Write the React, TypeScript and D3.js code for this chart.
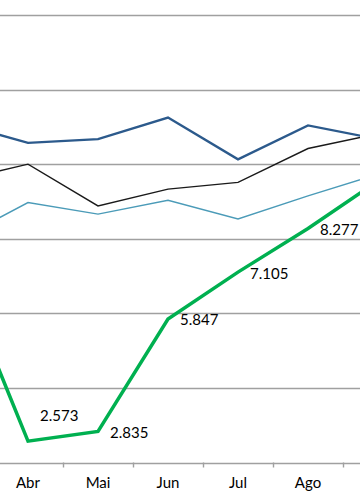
import React, { useRef, useEffect } from 'react';
import * as d3 from 'd3';

// Meses (Mar e Set ficam fora da área visível, só para as linhas chegarem às bordas)
const months = ['Mar', 'Abr', 'Mai', 'Jun', 'Jul', 'Ago', 'Set'];
const visibleMonths = ['Abr', 'Mai', 'Jun', 'Jul', 'Ago'];
const yTicks = [2, 4, 6, 8, 10, 12, 14];

const serieAzul = [11.1, 10.57, 10.67, 11.25, 10.13, 11.04, 10.67];
const seriePreta = [9.56, 10.0, 8.88, 9.33, 9.51, 10.42, 10.82];
const serieTurquesa = [7.98, 8.97, 8.66, 9.03, 8.53, 9.15, 9.73];
const serieVerde = [7.19, 2.573, 2.835, 5.847, 7.105, 8.277, 9.55];

const App = () => {
  const svgRef = useRef<SVGSVGElement>(null);

  useEffect(() => {
    if (!svgRef.current) return;
    const svg = d3.select(svgRef.current);
    svg.selectAll('*').remove();

    const width = 360;
    const height = 504;
    const font = 'Lato, "Open Sans", sans-serif';

    const x = d3.scaleBand<string>().domain(months).range([-77, 413]);
    const cx = (m: string) => x(m)! + x.bandwidth() / 2;
    const y = d3.scaleLinear().domain([2, 14]).range([462.5, 15]);

    svg.attr('width', width).attr('height', height).style('background', '#fff');

    // linhas de grade
    svg.append('g')
      .selectAll('line')
      .data(yTicks)
      .enter()
      .append('line')
      .attr('x1', 0)
      .attr('x2', width)
      .attr('y1', d => Math.round(y(d)) + 0.5)
      .attr('y2', d => Math.round(y(d)) + 0.5)
      .attr('stroke', '#a0a0a0')
      .attr('stroke-width', 1.4);

    // eixo X (só os meses visíveis)
    const xAxis = d3.axisBottom(x).tickValues(visibleMonths).tickSize(0).tickPadding(14);
    const gx = svg.append('g')
      .attr('transform', `translate(0,${Math.round(y(2)) + 0.5})`)
      .call(xAxis);
    gx.select('.domain').remove();
    gx.selectAll('.tick text')
      .attr('fill', '#000')
      .attr('font-size', '15px')
      .attr('font-family', font);

    // marcas entre categorias
    svg.append('g')
      .selectAll('line')
      .data(months.slice(1))
      .enter()
      .append('line')
      .attr('x1', d => Math.round(x(d)!) + 0.5)
      .attr('x2', d => Math.round(x(d)!) + 0.5)
      .attr('y1', y(2))
      .attr('y2', y(2) + 5)
      .attr('stroke', '#a0a0a0')
      .attr('stroke-width', 1.4);

    const line = d3.line<number>()
      .x((d, i) => cx(months[i]))
      .y(d => y(d));

    const series = [
      { values: serieTurquesa, color: '#4b9bb8', w: 1.4 },
      { values: seriePreta, color: '#1a1a1a', w: 1.4 },
      { values: serieAzul, color: '#2c5a8c', w: 2.4 },
      { values: serieVerde, color: '#00b050', w: 3.5 },
    ];

    series.forEach(s => {
      svg.append('path')
        .datum(s.values)
        .attr('fill', 'none')
        .attr('stroke', s.color)
        .attr('stroke-width', s.w)
        .attr('d', line);
    });

    // rótulos de dados da série verde (apenas meses visíveis)
    const labels = months
      .map((m, i) => ({ m, v: serieVerde[i], prev: i > 0 ? serieVerde[i - 1] : null }))
      .filter(d => visibleMonths.includes(d.m));

    svg.append('g')
      .selectAll('text')
      .data(labels)
      .enter()
      .append('text')
      .attr('x', d => cx(d.m) + 12)
      .attr('y', d => y(d.v) + (d.prev !== null && d.prev > d.v ? -26 : 1))
      .attr('dy', '0.36em')
      .attr('fill', '#000')
      .attr('font-size', '15px')
      .attr('font-family', font)
      .text(d => d.v.toFixed(3));
  }, []);

  return (
    <svg ref={svgRef} style={{ position: 'absolute', left: 0, top: 0 }}></svg>
  );
};

export default App;
